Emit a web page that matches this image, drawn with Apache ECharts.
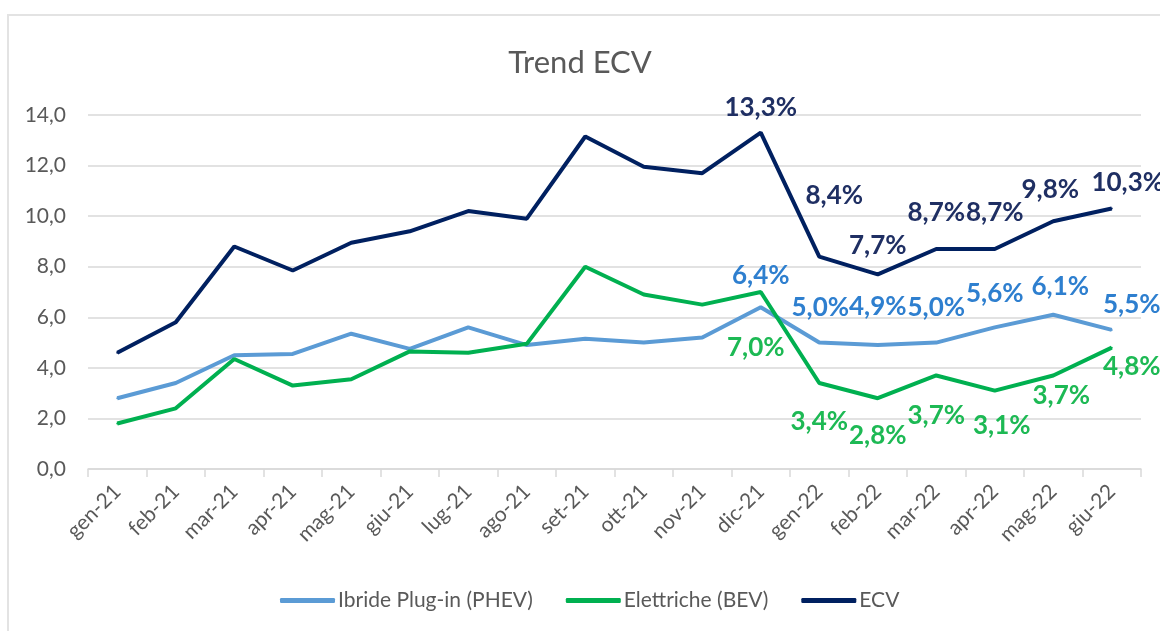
<!DOCTYPE html>
<html>
<head>
<meta charset="utf-8">
<script src="https://cdn.jsdelivr.net/npm/echarts@6/dist/echarts.min.js"></script>
<style>
  html, body { margin: 0; padding: 0; background: #fff; }
  #chart { width: 1160px; height: 631px; }
</style>
</head>
<body>
<div id="chart"></div>
<script>
var months = ['gen-21', 'feb-21', 'mar-21', 'apr-21', 'mag-21', 'giu-21', 'lug-21', 'ago-21', 'set-21',
  'ott-21', 'nov-21', 'dic-21', 'gen-22', 'feb-22', 'mar-22', 'apr-22', 'mag-22', 'giu-22'];

var phev = [2.8, 3.4, 4.5, 4.55, 5.35, 4.75, 5.6, 4.9, 5.15, 5.0, 5.2, 6.4, 5.0, 4.9, 5.0, 5.6, 6.1, 5.5];
var bev  = [1.8, 2.4, 4.35, 3.3, 3.55, 4.65, 4.6, 4.95, 8.0, 6.9, 6.5, 7.0, 3.4, 2.8, 3.7, 3.1, 3.7, 4.8];
var ecv  = [4.6, 5.8, 8.8, 7.85, 8.95, 9.4, 10.2, 9.9, 13.15, 11.95, 11.7, 13.3, 8.4, 7.7, 8.7, 8.7, 9.8, 10.3];

var yTicks = [0, 2, 4, 6, 8, 10, 12, 14];

// labelled months start at dic-21
var FIRST_LABEL = 11;

// label offsets from the point centre, one per labelled month
var ecvOffsets  = [[0, -25], [15, -61], [0, -29], [0, -36], [0, -36], [-3, -32], [16, -26]];
var phevOffsets = [[0, -32], [1, -35], [0, -38], [0, -35], [0, -34], [7, -28], [20, -25]];
var bevOffsets  = [[-5, 56], [0, 39], [0, 37], [0, 40], [7, 35], [8, 20], [20, 19]];

var fontFamily = 'Lato, "Open Sans", sans-serif';

function pct(v) {
  return v.toFixed(1).replace('.', ',') + '%';
}

function buildData(values, offsets, color) {
  return values.map(function (v, i) {
    if (i < FIRST_LABEL) return v;
    return {
      value: v,
      label: {
        show: true,
        position: 'inside',
        offset: offsets[i - FIRST_LABEL],
        color: color,
        fontFamily: fontFamily,
        fontWeight: 'bold',
        fontSize: 26,
        formatter: function (p) { return pct(p.value); }
      }
    };
  });
}

function lineSeries(name, values, offsets, lineColor, labelColor, z) {
  return {
    name: name,
    type: 'line',
    z: z,
    data: buildData(values, offsets, labelColor),
    symbol: 'circle',
    symbolSize: 2,
    showAllSymbol: true,
    itemStyle: { color: lineColor },
    lineStyle: { color: lineColor, width: 4 },
    emphasis: { disabled: true },
    animation: false
  };
}

var chart = echarts.init(document.getElementById('chart'));

chart.setOption({
  backgroundColor: '#ffffff',
  title: {
    text: 'Trend ECV',
    left: 'center',
    top: 42,
    textStyle: { fontFamily: fontFamily, fontSize: 31, fontWeight: 'normal', color: '#595959' }
  },
  graphic: [{
    type: 'rect',
    shape: { x: 8, y: 15, width: 1180, height: 640 },
    style: { fill: 'none', stroke: '#e3e3e3', lineWidth: 2 },
    silent: true
  }],
  legend: {
    left: 275,
    top: 585,
    itemWidth: 55,
    itemHeight: 5,
    itemGap: 33,
    icon: 'roundRect',
    textStyle: { fontFamily: fontFamily, fontSize: 21, color: '#595959', padding: [0, 0, 0, -2] },
    data: ['Ibride Plug-in (PHEV)', 'Elettriche (BEV)', 'ECV']
  },
  grid: { left: 88, right: 19, top: 115, bottom: 162 },
  xAxis: {
    type: 'category',
    data: months,
    boundaryGap: true,
    axisLine: { lineStyle: { color: '#d9d9d9', width: 1.5 } },
    axisTick: { show: true, length: 8, lineStyle: { color: '#d9d9d9', width: 1.5 } },
    axisLabel: {
      rotate: 45,
      margin: 19,
      color: '#595959',
      fontFamily: fontFamily,
      fontSize: 21
    }
  },
  yAxis: {
    type: 'value',
    min: yTicks[0],
    max: yTicks[yTicks.length - 1],
    interval: 2,
    axisLine: { show: false },
    axisTick: { show: false },
    splitLine: { lineStyle: { color: '#d9d9d9', width: 1.5 } },
    axisLabel: {
      margin: 22,
      color: '#595959',
      fontFamily: fontFamily,
      fontSize: 21,
      formatter: function (v) { return v.toFixed(1).replace('.', ','); }
    }
  },
  series: [
    lineSeries('Ibride Plug-in (PHEV)', phev, phevOffsets, '#5b9bd5', '#2e7fcf', 2),
    lineSeries('Elettriche (BEV)', bev, bevOffsets, '#00b050', '#1db954', 3),
    lineSeries('ECV', ecv, ecvOffsets, '#002060', '#1f2f63', 4)
  ]
});
</script>
</body>
</html>
